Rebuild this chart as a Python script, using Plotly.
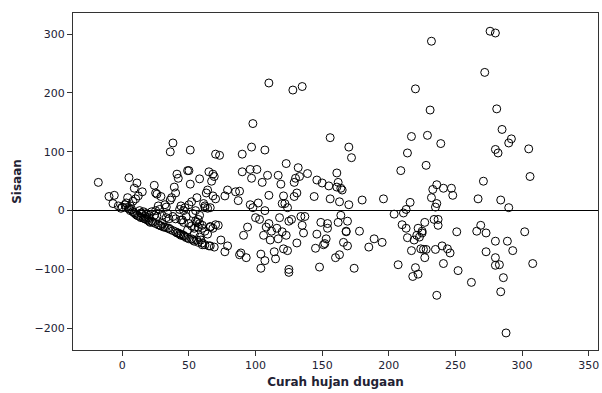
import plotly.graph_objects as go

x_fit = [-18, -10, -6, -7, -3, -1, 0, 2, 3, 4, 5, 6, 8, 7, 9, 10, 11, 12, 15, 13, 15, 17, 18, 20, 22, 24, 24, 25, 26, 27,
         28, 29, 30, 31, 32, 33, 34, 35, 36, 36, 37, 38, 39, 40, 41, 42, 42, 43, 44, 45, 46, 47, 48, 49, 49, 50, 51, 50, 51, 52,
         53, 54, 55, 56, 56, 57, 58, 58, 59, 60, 60, 61, 62, 63, 64, 65, 65, 66, 67, 68, 69, 69, 70, 70, 72, 73, 74, 77, 77, 79,
         79, 85, 87, 88, 88, 89, 90, 90, 91, 93, 94, 96, 96, 97, 97, 98, 98, 100, 101, 102, 103, 104, 104, 105, 106, 107, 107, 107, 108, 109,
         110, 110, 110, 111, 112, 114, 115, 116, 117, 117, 118, 119, 120, 120, 121, 121, 122, 123, 123, 124, 124, 125, 125, 125, 127, 128, 129, 129, 130, 131,
         131, 132, 133, 134, 135, 135, 136, 137, 139, 144, 145, 146, 146, 148, 149, 150, 151, 152, 153, 154, 154, 155, 156, 156, 160, 161, 161, 162, 162, 163,
         163, 164, 164, 165, 166, 168, 168, 169, 169, 170, 170, 172, 174, 178, 180, 185, 189, 195, 196, 204, 207, 209, 210, 211, 213, 213, 214, 214, 216, 217,
         217, 218, 219, 220, 220, 221, 222, 222, 223, 224, 225, 225, 226, 227, 227, 228, 228, 229, 231, 232, 232, 233, 234, 235, 235, 236, 236, 236, 237, 237,
         239, 240, 241, 241, 244, 246, 247, 248, 251, 252, 262, 266, 267, 269, 271, 272, 273, 273, 276, 280, 280, 280, 280, 280, 281, 282, 283, 284, 284, 285,
         286, 288, 289, 290, 290, 292, 293, 302, 305, 306, 308,
         3, 5, 6, 8, 9, 10, 11, 12, 13, 14, 16, 17, 19, 20, 21, 23, 25, 27, 28, 29, 32, 34, 36, 38, 40, 41, 43, 44, 46, 47,
         48, 52, 54, 56, 57, 60, 62, 66,
         14, 16, 18, 20, 22, 25, 26, 30, 33, 35, 38, 40, 44, 46, 50, 52, 54, 55, 57, 58, 60, 62, 64, 66, 68, 70,
         44, 46, 50, 53, 58, 62, 64, 66, 68]

residual = [48, 24, 26, 12, 8, 4, 6, 10, 13, 22, 56, 8, 16, 2, 38, 20, 47, 25, 32, 0, -6, -10, -15, -12, -18, -8, 43, 30, 28, 8,
            2, 24, -22, -28, 10, 6, -5, -30, 18, 100, 22, 115, 40, 30, 62, 55, -38, 2, -40, -16, -42, 5, -10, -33, 68, 68, 103, -48, 45, 15,
            -50, -40, 0, -20, 22, -15, 54, -45, -50, -58, -25, 12, 5, 30, 35, 66, -60, -27, 50, 62, 58, -62, 20, 96, -25, 94, -50, -70, 25, -60,
            35, 32, 17, 33, -75, -72, 66, 96, -42, -80, -28, 70, 10, 55, 108, 148, 5, -12, 70, 13, -15, -74, -98, 48, -42, 103, -85, 0, -28, 60,
            217, 26, -22, -50, -35, -70, -82, -30, 60, -48, -12, 45, 12, -36, 25, -65, 12, -42, 80, 5, -68, -18, -100, -105, -15, 205, 48, 24, 55, 30,
            -55, 73, 58, -10, 211, -25, -38, -10, 63, 24, -64, -40, 52, -96, -20, 47, -58, -56, -48, -22, -30, 42, 124, 20, -80, 40, 64, -20, 48, -75,
            15, -8, 38, 35, -54, -35, -36, -60, -18, 108, 10, 90, -98, -35, 18, -62, -48, -54, 20, -6, -92, 68, -24, -4, -30, 2, -46, 98, 14, -68,
            126, -112, -50, -97, 207, -42, -30, -108, -45, -65, -38, -35, -66, -80, -20, 77, -66, 128, 171, 288, 22, 36, -15, 6, -66, -144, 12, 44, -15, -25,
            114, -60, -90, 38, -65, -72, 38, 26, -36, -102, -122, -35, 20, -25, 50, 235, -70, -38, 305, 302, 104, -52, -80, -93, 173, 98, -92, 18, -138, 138,
            -114, -208, -52, 5, 115, 122, -68, -36, 105, 58, -90,
            5, 3, 0, -2, -4, -6, -8, -9, -10, -12, -13, -14, -16, -18, -20, -20, -22, -24, -25, -26, -28, -30, -32, -34, -36, -38, -40, -42, -43, -44,
            -46, -48, -52, -50, -54, -55, -58, -60,
            -4, -2, -5, -8, -2, 0, -10, -8, -12, -14, -10, -14, -16, -20, -22, -26, -30, -18, -28, -22, -30, -35, -40, -28, -30, -24,
            8, 0, 10, -5, -8, 8, 4, 5, 25]

x_ticks = [0, 50, 100, 150, 200, 250, 300, 350]
y_ticks = [-200, -100, 0, 100, 200, 300]

fig = go.Figure()
fig.add_trace(go.Scatter(
    x=x_fit, y=residual, mode="markers",
    marker=dict(symbol="circle-open", size=8, color="black", line=dict(width=1, color="black")),
    hoverinfo="skip", showlegend=False,
))

axis_common = dict(
    showgrid=False, showline=True, linecolor="#333333", linewidth=1, mirror=True,
    ticks="outside", ticklen=5, tickcolor="#333333", automargin=False,
    tickfont=dict(family="DejaVu Sans", size=11, color="#222233"),
)

fig.update_layout(
    width=602, height=393,
    margin=dict(l=73, r=4, t=13, b=43),
    paper_bgcolor="white", plot_bgcolor="white",
    xaxis=dict(range=[-37, 357], tickvals=x_ticks, zeroline=False,
               title=dict(text="<b>Curah hujan dugaan</b>", font=dict(family="DejaVu Sans", size=12, color="#222233"), standoff=6),
               **axis_common),
    yaxis=dict(range=[-237, 336], tickvals=y_ticks, zeroline=True, zerolinecolor="black", zerolinewidth=1,
               title=dict(text="<b>Sisaan</b>", font=dict(family="DejaVu Sans", size=12, color="#222233"), standoff=10),
               **axis_common),
)

fig.write_html("out.html", config={"displayModeBar": False},
               post_script="document.body.style.margin='0';document.body.style.overflow='hidden';")
